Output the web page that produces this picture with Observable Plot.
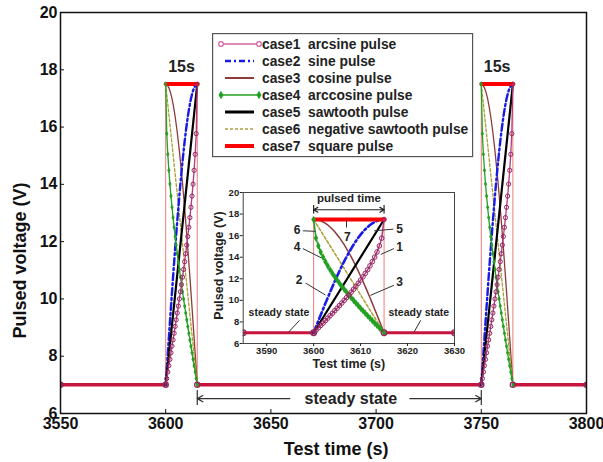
<!DOCTYPE html>
<html><head><meta charset="utf-8">
<script src="https://cdn.jsdelivr.net/npm/d3@7"></script>
<script src="https://cdn.jsdelivr.net/npm/@observablehq/plot@0.6"></script>
<style>
body{margin:0;background:#fff;}
#wrap{position:relative;width:603px;height:462px;overflow:hidden;}
#wrap svg{position:absolute;}
</style></head><body><div id="wrap"></div>
<script>
// ---------- data ----------
const pulseStarts = [3600, 3750];
const pulseDuration = 15;
const steadyLevel = 7;
const peakLevel = 17.5;
const pulseOffset = [0,0.5,1,1.5,2,2.5,3,3.5,4,4.5,5,5.5,6,6.5,7,7.5,8,8.5,9,9.5,10,10.5,11,11.5,12,12.5,13,13.5,14,14.5,15];
const edgeOffset = [0, 15];
const arcsineV = [7.00,7.22,7.45,7.67,7.89,8.12,8.35,8.57,8.80,9.04,9.27,9.51,9.75,10.00,10.25,10.50,10.76,11.03,11.30,11.58,11.88,12.18,12.50,12.84,13.20,13.59,14.01,14.49,15.05,15.77,17.50];
const sineV = [7.00,7.55,8.10,8.64,9.18,9.72,10.24,10.76,11.27,11.77,12.25,12.72,13.17,13.61,14.03,14.42,14.80,15.16,15.49,15.81,16.09,16.36,16.59,16.80,16.99,17.14,17.27,17.37,17.44,17.49,17.50];
const cosineV = [17.50,17.49,17.44,17.37,17.27,17.14,16.99,16.80,16.59,16.36,16.09,15.81,15.49,15.16,14.80,14.42,14.03,13.61,13.17,12.72,12.25,11.77,11.27,10.76,10.24,9.72,9.18,8.64,8.10,7.55,7.00];
const arccosineV = [17.50,15.77,15.05,14.49,14.01,13.59,13.20,12.84,12.50,12.18,11.88,11.58,11.30,11.03,10.76,10.50,10.25,10.00,9.75,9.51,9.27,9.04,8.80,8.57,8.35,8.12,7.89,7.67,7.45,7.22,7.00];
const sawtoothV = [7.0, 17.5];
const negSawtoothV = [17.5, 7.0];
const squareV = [17.5, 17.5];
const caseIds = ["case1","case2","case3","case4","case5","case6","case7"];
const caseNames = ["arcsine pulse","sine pulse","cosine pulse","arccosine pulse","sawtooth pulse","negative sawtooth pulse","square pulse"];
const xTicksMain = [3550,3600,3650,3700,3750,3800];
const yTicks = [6,8,10,12,14,16,18,20];
const xTicksInset = [3590,3600,3610,3620,3630];
const mainDomainX = [3550, 3800];
const insetDomainX = [3585, 3630];
const domainY = [6, 20];

// ---------- annotations (data coordinates) ----------
const label15V = 18.1;
const steadyArrowV = 6.52, steadyTextX = 3688;
const steadyArrowFrom = [3659, 3716], steadyArrowTo = [3615, 3750];
const steadyBar = [6.28, 6.8];
const pulsedTimeV = 18.4, pulsedTimeTextV = 19.45, pulsedBar = [18.0, 18.8];
const numLabels = ["6","4","2","7","5","1","3"];
const numLabelT = [3596.5,3596.5,3596.9,3607.2,3618.3,3618.3,3618.3];
const numLabelV = [16.48,14.94,11.85,15.9,16.64,14.94,11.7];
const leadT1 = [3597.7,3597.7,3598.3,3607.0,3612.9,3614.3,3612.1];
const leadV1 = [16.45,14.8,11.6,17.4,16.45,14.26,10.46];
const leadT2 = [3600.4,3601.6,3602.5,3607.0,3617.0,3617.1,3617.1];
const leadV2 = [16.4,13.95,10.5,16.75,16.6,14.8,11.4];
const ssLabelT = [3592.6, 3622.4], ssLabelV = 8.83;
const ssLeadT1 = [3594.7, 3621.4], ssLeadT2 = [3597.0, 3622.8], ssLeadV1 = 7.07, ssLeadV2 = 8.15;

const FONT = '"Liberation Sans", Arial, Helvetica, sans-serif';
const COL = {c1:"#b23a7e", c1m:"#94285f", c2:"#1a1ae6", c3:"#8e3b3b", c4:"#22a022", c5:"#000000", c6:"#a8a032", c7:"#ff0000", steady:"#c8143c", edge:"#f27a7a"};

function caseRows(starts, offs, vals) {
  return starts.flatMap(s => offs.map((t, i) => ({x: s + t, y: vals[i], s})));
}
function steadySegs(domain, starts) {
  const segs = []; let a = domain[0];
  for (const s of starts) { if (s > a) segs.push([a, s]); a = s + pulseDuration; }
  if (a < domain[1]) segs.push([a, domain[1]]);
  return segs;
}
function pulseMarks(domain, starts, sc) {
  const c1 = caseRows(starts, pulseOffset, arcsineV);
  const c2 = caseRows(starts, pulseOffset, sineV);
  const c3 = caseRows(starts, pulseOffset, cosineV);
  const c4 = caseRows(starts, pulseOffset, arccosineV);
  const c5 = caseRows(starts, edgeOffset, sawtoothV);
  const c6 = caseRows(starts, edgeOffset, negSawtoothV);
  const c7 = caseRows(starts, edgeOffset, squareV);
  const segs = steadySegs(domain, starts);
  const edges = starts.flatMap(s => edgeOffset.map(t => s + t));
  const segEnds = segs.flat();
  const L = {x: "x", y: "y", z: "s", clip: true};
  return [
    Plot.ruleX(edges, {x: d => d, y1: steadyLevel, y2: peakLevel, stroke: COL.edge, strokeWidth: 1, clip: true}),
    Plot.ruleY(segs, {x1: d => d[0], x2: d => d[1], y: steadyLevel, stroke: COL.steady, strokeWidth: sc.steadyW, clip: true}),
    Plot.line(c3, {...L, stroke: COL.c3, strokeWidth: sc.w}),
    Plot.line(c6, {...L, stroke: COL.c6, strokeWidth: sc.w, strokeDasharray: "3,2"}),
    Plot.line(c2, {...L, stroke: COL.c2, strokeWidth: sc.blueW, strokeDasharray: "7,3,2,3"}),
    Plot.line(c5, {...L, stroke: COL.c5, strokeWidth: sc.blackW}),
    Plot.line(c7, {...L, stroke: COL.c7, strokeWidth: sc.redW}),
    Plot.line(c4, {...L, stroke: COL.c4, strokeWidth: sc.w}),
    Plot.dot(c4, {x: "x", y: "y", symbol: "diamond", fill: COL.c4, r: sc.rd, clip: true}),
    Plot.line(c1, {...L, stroke: COL.c1, strokeWidth: sc.w}),
    Plot.dot(c1, {x: "x", y: "y", stroke: COL.c1m, strokeWidth: 1, fill: "none", r: sc.r, clip: true}),
    Plot.dot(segEnds, {x: d => d, y: steadyLevel, stroke: COL.c1m, strokeWidth: 1.3, fill: "none", r: sc.r + 0.5, clip: true})
  ];
}

const wrap = document.getElementById("wrap");

// ---------- main plot ----------
const main = Plot.plot({
  width: 603, height: 462,
  marginLeft: 60, marginRight: 17, marginTop: 12, marginBottom: 49,
  x: {domain: mainDomainX}, y: {domain: domainY},
  style: {fontFamily: FONT, fontWeight: "bold", fontSize: "16px", background: "transparent", color: "#111"},
  marks: [
    ...pulseMarks(mainDomainX, pulseStarts, {w: 1.3, blueW: 2.4, blackW: 2.2, redW: 4, steadyW: 3.5, r: 2.1, rd: 1.7}),
    Plot.text(pulseStarts, {x: d => d + pulseDuration / 2, y: label15V, text: () => "15s", fontSize: 16, fill: "#222"}),
    Plot.arrow([0, 1], {x1: i => steadyArrowFrom[i], x2: i => steadyArrowTo[i], y1: steadyArrowV, y2: steadyArrowV, stroke: "#333", strokeWidth: 1.2, headLength: 8}),
    Plot.ruleX(steadyArrowTo, {x: d => d, y1: steadyBar[0], y2: steadyBar[1], stroke: "#333", strokeWidth: 1.2}),
    Plot.text(["steady state"], {x: steadyTextX, y: steadyArrowV, text: d => d, fontSize: 16, fill: "#222"}),
    Plot.frame({stroke: "#111", strokeWidth: 1.5}),
    Plot.axisX({ticks: xTicksMain, tickSize: -4, tickPadding: 8, fontSize: 16, label: null, tickFormat: d => String(d)}),
    Plot.axisY({ticks: yTicks, tickSize: -4, tickPadding: 7, fontSize: 16, label: null, tickFormat: d => String(d)}),
    Plot.text(["Test time (s)"], {frameAnchor: "bottom", dx: 12.6, dy: 36, text: d => d, fontSize: 18, lineAnchor: "middle"}),
    Plot.text(["Pulsed voltage (V)"], {frameAnchor: "left", textAnchor: "middle", dx: -40, dy: 47.5, rotate: -90, text: d => d, fontSize: 18})
  ]
});
main.style.left = "0px"; main.style.top = "0px";
wrap.appendChild(main);

// ---------- legend ----------
const legend = d3.create("svg").attr("width", 264).attr("height", 127)
  .style("left", "212px").style("top", "33px");
legend.append("rect").attr("x", 0.6).attr("y", 0.6).attr("width", 260).attr("height", 123)
  .attr("fill", "white").attr("stroke", "#555").attr("stroke-width", 1.2);
const legendStyle = [
  {stroke: "#d063a0", w: 1.4, x1: 9, x2: 47, marker: "circle"},
  {stroke: COL.c2, w: 2.5, x1: 13, x2: 42, dash: "6,3,2,3"},
  {stroke: COL.c3, w: 2, x1: 13, x2: 42},
  {stroke: COL.c4, w: 1.5, x1: 9, x2: 47, marker: "diamond"},
  {stroke: "#000", w: 3, x1: 13, x2: 42},
  {stroke: "#b0a040", w: 1.4, x1: 13, x2: 42, dash: "3,2"},
  {stroke: "#ff0000", w: 4, x1: 13, x2: 42}
];
caseIds.forEach((id, i) => {
  const y = 11 + i * 17, s = legendStyle[i];
  legend.append("line").attr("x1", s.x1).attr("x2", s.x2).attr("y1", y).attr("y2", y)
    .attr("stroke", s.stroke).attr("stroke-width", s.w).attr("stroke-dasharray", s.dash || null);
  if (s.marker === "circle") {
    for (const x of [s.x1, s.x2]) legend.append("circle").attr("cx", x).attr("cy", y).attr("r", 2.3)
      .attr("fill", "white").attr("stroke", s.stroke).attr("stroke-width", 1.2);
  } else if (s.marker === "diamond") {
    for (const x of [s.x1, s.x2]) legend.append("path").attr("d", d3.symbol(d3.symbolDiamond, 22)())
      .attr("transform", `translate(${x},${y})`).attr("fill", s.stroke);
  }
  legend.append("text").attr("x", 50).attr("y", y).attr("dy", "0.35em")
    .attr("font-family", FONT).attr("font-weight", "bold").attr("font-size", 13.8).attr("fill", "#222")
    .text(`${id}\u00a0\u00a0${caseNames[i]}`);
});
wrap.appendChild(legend.node());

// ---------- inset ----------
const idx = numLabels.map((_, i) => i);
const inset = Plot.plot({
  width: 274, height: 195,
  marginLeft: 42.7, marginRight: 20, marginTop: 12, marginBottom: 32,
  x: {domain: insetDomainX}, y: {domain: domainY},
  style: {fontFamily: FONT, fontWeight: "bold", fontSize: "9.5px", background: "transparent", color: "#222"},
  marks: [
    ...pulseMarks(insetDomainX, [pulseStarts[0]], {w: 1.5, blueW: 2.6, blackW: 2.2, redW: 4, steadyW: 3, r: 2.3, rd: 2.3}),
    Plot.link(idx, {x1: i => leadT1[i], y1: i => leadV1[i], x2: i => leadT2[i], y2: i => leadV2[i], stroke: "#333", strokeWidth: 1}),
    Plot.text(idx, {x: i => numLabelT[i], y: i => numLabelV[i], text: i => numLabels[i], fontSize: 12, fill: "#222"}),
    Plot.link([0, 1], {x1: i => ssLeadT1[i], x2: i => ssLeadT2[i], y1: ssLeadV1, y2: ssLeadV2, stroke: "#333", strokeWidth: 1}),
    Plot.text([0, 1], {x: i => ssLabelT[i], y: ssLabelV, text: () => "steady state", fontSize: 10.5, fill: "#222"}),
    Plot.arrow([0, 1], {x1: pulseStarts[0] + pulseDuration / 2, x2: i => pulseStarts[0] + edgeOffset[i], y1: pulsedTimeV, y2: pulsedTimeV, stroke: "#222", strokeWidth: 1.2, headLength: 6}),
    Plot.ruleX(edgeOffset, {x: t => pulseStarts[0] + t, y1: pulsedBar[0], y2: pulsedBar[1], stroke: "#222", strokeWidth: 1.2}),
    Plot.text(["pulsed time"], {x: pulseStarts[0] + pulseDuration / 2, y: pulsedTimeTextV, text: d => d, fontSize: 11.5}),
    Plot.frame({stroke: "#444", strokeWidth: 1}),
    Plot.axisX({ticks: xTicksInset, tickSize: 3, tickPadding: 1, fontSize: 9.5, label: null, tickFormat: d => String(d)}),
    Plot.axisY({ticks: yTicks, tickSize: 3, tickPadding: 1, fontSize: 9.5, label: null, tickFormat: d => String(d)}),
    Plot.text(["Test time (s)"], {frameAnchor: "bottom", dy: 20, lineAnchor: "middle", text: d => d, fontSize: 12.5}),
    Plot.text(["Pulsed voltage (V)"], {frameAnchor: "left", textAnchor: "middle", dx: -24.7, dy: -2.5, rotate: -90, text: d => d, fontSize: 12.5})
  ]
});
inset.style.left = "200px"; inset.style.top = "180px";
wrap.appendChild(inset);
</script></body></html>
